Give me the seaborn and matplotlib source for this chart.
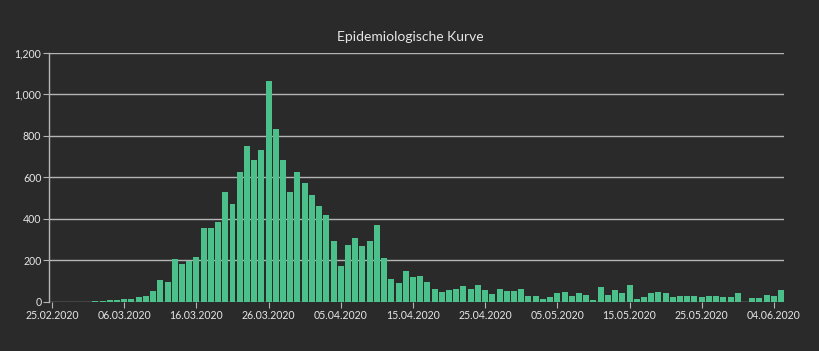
import matplotlib
matplotlib.use("Agg")
import matplotlib.pyplot as plt
import seaborn as sns
import pandas as pd
import numpy as np

# ---- data ----
start_date = "2020-02-25"
cases = [1, 0, 1, 1, 2, 2, 3, 5, 8, 12,
         15, 15, 23, 29, 54, 106, 96, 205, 184, 198,
         218, 357, 357, 384, 527, 473, 625, 752, 685, 732,
         1061, 831, 681, 529, 625, 572, 513, 460, 417, 294,
         171, 274, 307, 269, 291, 372, 211, 110, 89, 148,
         118, 127, 96, 61, 48, 58, 64, 78, 62, 80,
         56, 40, 62, 53, 53, 64, 28, 30, 13, 24,
         42, 49, 30, 43, 36, 9, 71, 35, 56, 42,
         80, 15, 22, 41, 48, 43, 25, 27, 28, 27,
         25, 31, 30, 25, 25, 44, 1, 17, 17, 33,
         29, 57]
dates = pd.date_range(start_date, periods=len(cases), freq="D")
date_labels = [d.strftime("%d.%m.%Y") for d in dates]
y_ticks = [0, 200, 400, 600, 800, 1000, 1200]
y_tick_labels = ["0", "200", "400", "600", "800", "1,000", "1,200"]
title = "Epidemiologische Kurve"

df = pd.DataFrame({"Datum": date_labels, "Fälle": cases})

# ---- style ----
bg = "#2a2a2a"
grid_c = "#b4b4b4"
text_c = "#e6e6e6"
bar_c = "#4cc08a"

sns.set_theme(style="dark")
plt.rcParams["font.family"] = ["Lato", "DejaVu Sans"]

W, H = 820, 351
fig = plt.figure(figsize=(W / 100, H / 100), dpi=100, facecolor=bg)
ax = fig.add_axes([49 / W, 1 - 302 / H, (784 - 49) / W, (302 - 52.5) / H])
ax.set_facecolor(bg)

sns.barplot(data=df, x="Datum", y="Fälle", color=bar_c, width=0.83,
            saturation=1, linewidth=0, edgecolor=bar_c, ax=ax, zorder=3)

ax.set_xlim(-0.42, len(cases) - 0.6)
ax.set_ylim(0, 1200)

ax.set_yticks(y_ticks)
ax.set_yticklabels(y_tick_labels)
tick_pos = list(range(0, len(cases), 10))
ax.set_xticks(tick_pos)
ax.set_xticklabels([date_labels[i] for i in tick_pos])

ax.grid(axis="y", color=grid_c, linewidth=1.0, zorder=1)
ax.grid(axis="x", visible=False)
for s in ["top", "right", "bottom"]:
    ax.spines[s].set_visible(False)
ax.spines["left"].set_color(grid_c)
ax.spines["left"].set_linewidth(1.0)

ax.tick_params(axis="both", colors=grid_c, labelcolor=text_c, labelsize=7.6,
               length=4, width=0.8, pad=1.5, bottom=True, left=True)
ax.set_xlabel("")
ax.set_ylabel("")

fig.text(0.5, 1 - 37 / H, title, color=text_c, fontsize=10,
         ha="center", va="center")

fig.savefig("out.png", dpi=100, facecolor=bg)
